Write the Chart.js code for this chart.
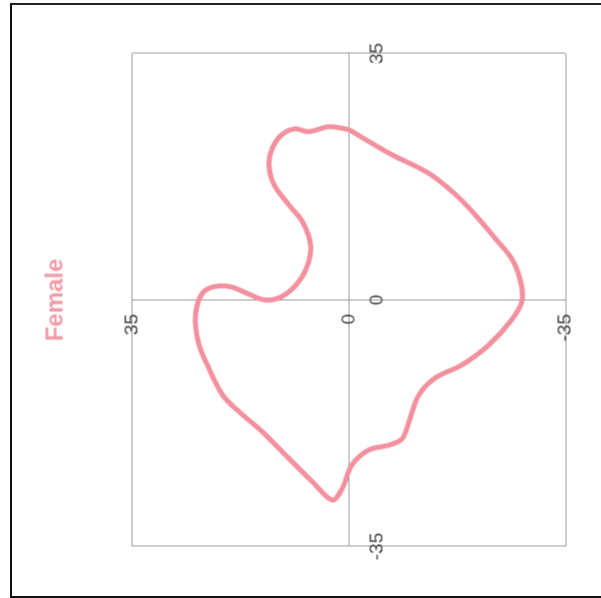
<!DOCTYPE html>
<html>
<head>
<meta charset="utf-8">
<script src="https://cdn.jsdelivr.net/npm/chart.js@4"></script>
<style>
    html, body { margin: 0; padding: 0; background: #fff; overflow: hidden; }
    body { width: 601px; height: 598px; position: relative; }
    #frame {
        position: absolute; left: 10px; top: 3px; width: 589px; height: 591px;
        border-left: 2px solid #111; border-top: 2px solid #222; border-bottom: 2px solid #111;
    }
    #wrap {
        position: absolute; left: 1.5px; top: -1.5px; width: 598px; height: 601px;
        transform: rotate(-90deg);
    }
</style>
</head>
<body>
<div id="frame"></div>
<div id="wrap"><canvas id="femaleChart" width="598" height="601"></canvas></div>
<script>
// outline of the profile
const femaleX = [24.2, 24.6, 23.9, 24.3, 23.5, 21.5, 19.2, 16.4, 13.5, 11.1, 7.9, 5.4, 2.6, 0.5, 0.0, 0.8, 1.8, 2.0, 1.3, -0.7,
    -3.5, -6.4, -9.2, -13.5, -15.9, -18.7, -22.5, -25.8, -28.4, -26.8, -23.4, -21.3, -20.6, -19.7, -17.3, -13.5, -11.1, -9.2, -6.4, -2.8,
    0.0, 3.1, 5.9, 8.8, 12.1, 15.0, 18.0, 20.6, 22.2, 24.2];
const femaleY = [0.0, 3.2, 6.5, 8.7, 10.8, 12.4, 12.9, 12.1, 9.7, 7.5, 6.2, 6.5, 8.1, 10.8, 13.5, 16.1, 18.8, 21.0, 23.3, 24.5,
    24.8, 24.2, 22.9, 20.4, 17.7, 14.0, 9.7, 5.9, 2.7, 1.1, -0.5, -3.2, -6.5, -8.6, -9.7, -11.3, -13.9, -18.3, -22.6, -26.3,
    -28.0, -27.6, -26.3, -23.6, -20.4, -17.2, -12.9, -7.0, -3.8, 0.0];
const tickValues = [-35, 0, 35];

const points = femaleX.map((x, i) => ({ x: x, y: femaleY[i] }));
const gridColor = '#9c9c9c';
const font = { family: '"Liberation Sans", Arial, sans-serif', size: 19 };

function axis(pad) {
    return {
        type: 'linear',
        position: 'center',
        min: -35,
        max: 35,
        afterBuildTicks: (scale) => { scale.ticks = tickValues.map(v => ({ value: v })); },
        grid: { color: gridColor, lineWidth: 1, drawTicks: false },
        border: { display: false },
        ticks: { font: font, color: '#444', padding: pad, maxRotation: 0, minRotation: 0 }
    };
}

new Chart(document.getElementById('femaleChart').getContext('2d'), {
    type: 'scatter',
    data: {
        datasets: [{
            label: 'Female',
            data: points,
            showLine: true,
            borderColor: '#f2909d',
            borderWidth: 5,
            pointRadius: 0,
            tension: 0.35,
            fill: false
        }]
    },
    options: {
        responsive: false,
        animation: false,
        layout: { padding: { left: 52, right: 53, top: 0, bottom: 36 } },
        plugins: {
            legend: { display: false },
            tooltip: { enabled: false },
            title: {
                display: true,
                text: 'Female',
                color: '#f39aa6',
                font: { family: '"Liberation Sans", Arial, sans-serif', size: 24, weight: 'bold' },
                padding: { top: 41, bottom: 62 }
            }
        },
        scales: {
            x: axis(17),
            y: axis(14)
        }
    }
});
</script>
</body>
</html>
